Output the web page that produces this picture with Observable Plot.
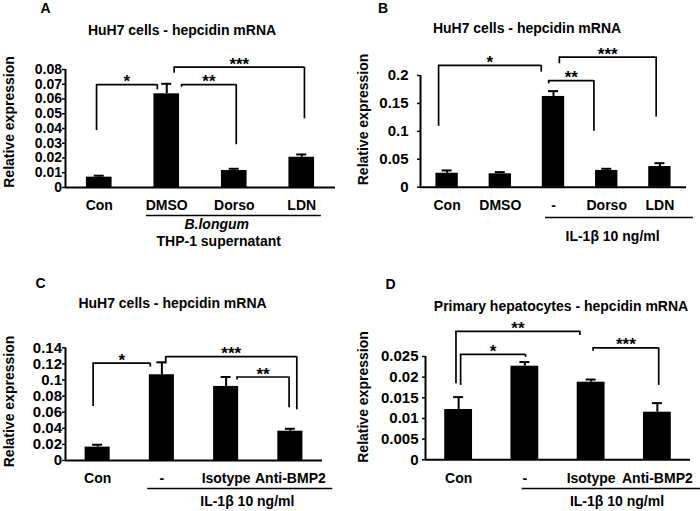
<!DOCTYPE html>
<html>
<head>
<meta charset="utf-8">
<script src="https://cdn.jsdelivr.net/npm/d3@7"></script>
<script src="https://cdn.jsdelivr.net/npm/@observablehq/plot@0.6"></script>
<style>
html, body { margin: 0; padding: 0; background: #fff; }
#wrap { position: relative; width: 700px; height: 511px; overflow: hidden; background: #fff; }
#wrap > div { position: absolute; }
</style>
</head>
<body>
<div id="wrap">
  <div id="pA" style="left:0;top:0"></div>
  <div id="pB" style="left:350px;top:0"></div>
  <div id="pC" style="left:0;top:255px"></div>
  <div id="pD" style="left:350px;top:255px"></div>
</div>
<script>
// ---------------- Panel A ----------------
const titleA = "HuH7 cells - hepcidin mRNA";
const catsA = ["Con", "DMSO", "Dorso", "LDN"];
const meanA = [0.007, 0.0635, 0.0115, 0.0205];
const semA = [0.001, 0.0068, 0.0012, 0.0019];
const ticksA = ["0", "0.01", "0.02", "0.03", "0.04", "0.05", "0.06", "0.07", "0.08"];
const sigA = [
  {label: "*", a: "Con", aShift: -0.04, aY: 0.0386, b: "DMSO", bShift: -0.14, bY: 0.0662, top: 0.0698},
  {label: "**", a: "DMSO", aShift: 0.22, aY: 0.068, b: "Dorso", bShift: 0.03, bY: 0.029, top: 0.0698},
  {label: "***", a: "DMSO", aShift: 0.11, aY: 0.0775, b: "LDN", bShift: 0.04, bY: 0.0466, top: 0.0816}
];
const groupLineA = {from: "DMSO", to: "LDN", padFrom: 0.3, padTo: 0.29};
const groupTextA = [
  {text: "B.longum", at: 1.74, italic: true, line: 0},
  {text: "THP-1 supernatant", at: 1.77, italic: false, line: 1}
];

// ---------------- Panel B ----------------
const titleB = "HuH7 cells - hepcidin mRNA";
const catsB = ["Con", "DMSO", "-", "Dorso", "LDN"];
const meanB = [0.025, 0.024, 0.1625, 0.030, 0.037];
const semB = [0.005, 0.003, 0.0095, 0.003, 0.006];
const ticksB = ["0", "0.05", "0.1", "0.15", "0.2"];
const sigB = [
  {label: "*", a: "Con", aShift: -0.16, aY: 0.109, b: "-", bShift: -0.23, bY: 0.206, top: 0.218},
  {label: "**", a: "-", aShift: -0.09, aY: 0.185, b: "Dorso", bShift: -0.24, bY: 0.1004, top: 0.191},
  {label: "***", a: "-", aShift: 0.11, aY: 0.221, b: "LDN", bShift: -0.07, bY: 0.1255, top: 0.233}
];
const groupLineB = {from: "-", to: "LDN", padFrom: 0.15, padTo: 0.63};
const groupTextB = [{text: "IL-1β 10 ng/ml", at: 3.11, italic: false, line: 0}];

// ---------------- Panel C ----------------
const titleC = "HuH7 cells - hepcidin mRNA";
const catsC = ["Con", "-", "Isotype", "Anti-BMP2"];
const meanC = [0.0166, 0.1065, 0.092, 0.0364];
const semC = [0.003, 0.0155, 0.0117, 0.003];
const ticksC = ["0", "0.02", "0.04", "0.06", "0.08", "0.1", "0.12", "0.14"];
const sigC = [
  {label: "*", a: "Con", aShift: -0.07, aY: 0.067, b: "-", bShift: -0.18, bY: 0.116, top: 0.121},
  {label: "***", a: "-", aShift: 0.06, aY: 0.120, b: "Anti-BMP2", bShift: 0.10, bY: 0.0629, top: 0.129},
  {label: "**", a: "Isotype", aShift: 0.17, aY: 0.100, b: "Anti-BMP2", bShift: -0.02, bY: 0.0655, top: 0.1037}
];
const groupLineC = {from: "-", to: "Anti-BMP2", padFrom: 0.22, padTo: 0.66};
const groupTextC = [{text: "IL-1β 10 ng/ml", at: 2.33, italic: false, line: 0}];

// ---------------- Panel D ----------------
const titleD = "Primary hepatocytes - hepcidin mRNA";
const catsD = ["Con", "-", "Isotype", "Anti-BMP2"];
const meanD = [0.01217, 0.02265, 0.01878, 0.01152];
const semD = [0.003, 0.001, 0.00065, 0.0022];
const ticksD = ["0", "0.005", "0.01", "0.015", "0.02", "0.025"];
const sigD = [
  {label: "*", a: "Con", aShift: 0.03, aY: 0.018, b: "-", bShift: 0.01, bY: 0.0248, top: 0.0255},
  {label: "**", a: "Con", aShift: -0.04, aY: 0.0184, b: "Isotype", bShift: -0.17, bY: 0.0301, top: 0.0311},
  {label: "***", a: "Isotype", aShift: 0.03, aY: 0.0263, b: "Anti-BMP2", bShift: 0.02, bY: 0.018, top: 0.0271}
];
const groupLineD = {from: "-", to: "Anti-BMP2", padFrom: 0.04, padTo: 0.7};
const groupTextD = [{text: "IL-1β 10 ng/ml", at: 2.39, italic: false, line: 0}];

const FONT = '"Liberation Sans", Arial, Helvetica, sans-serif';

function panel(cfg) {
  const {cats, means, sems, ticks, sig, groupLine, groupText, title, letter, L} = cfg;
  const n = cats.length;
  const idx = new Map(cats.map((c, i) => [c, i]));
  const data = cats.map((c, i) => ({cat: c, i, mean: means[i], sem: sems[i]}));
  const xDomain = [-0.5, n - 0.5];
  const yDomain = [0, +ticks[ticks.length - 1]];
  const step = (L.width - L.ml - L.mr) / n;
  const cap = 5 / step;
  const tickLabel = new Map(ticks.map(t => [+t, t]));
  const br = sig.map(s => {
    const xa = idx.get(s.a) + s.aShift, xb = idx.get(s.b) + s.bShift;
    return {...s, xa, xb, mid: (xa + xb) / 2};
  });
  const legs = br.flatMap(b => [{x: b.xa, y1: b.aY, y2: b.top}, {x: b.xb, y1: b.bY, y2: b.top}]);
  const pos = (px, py) => ({frameAnchor: "top-left", dx: px - L.ml, dy: py - L.mt});

  return Plot.plot({
    width: L.width,
    height: L.height,
    marginLeft: L.ml,
    marginRight: L.mr,
    marginTop: L.mt,
    marginBottom: L.mb,
    style: {fontFamily: FONT, fontSize: "14px", fontWeight: "bold", color: "#000", background: "#fff", overflow: "visible"},
    x: {domain: xDomain},
    y: {domain: yDomain},
    marks: [
      // bars
      Plot.rect(data, {x1: d => d.i - L.barHalf, x2: d => d.i + L.barHalf, y1: 0, y2: "mean", fill: "#000"}),
      // error bars
      Plot.ruleX(data, {x: "i", y1: "mean", y2: d => d.mean + d.sem, stroke: "#000", strokeWidth: 2}),
      Plot.ruleY(data, {y: d => d.mean + d.sem, x1: d => d.i - cap, x2: d => d.i + cap, stroke: "#000", strokeWidth: 2}),
      // axes lines
      Plot.ruleX([xDomain[0]], {stroke: "#000", strokeWidth: 2}),
      Plot.ruleY([yDomain[0]], {stroke: "#000", strokeWidth: 2}),
      Plot.axisY({ticks: ticks.map(Number), tickFormat: d => tickLabel.get(d), tickSize: 3, tickPadding: L.tickPad, strokeWidth: 1.5, label: null, fontSize: L.tickFont}),
      Plot.axisX({ticks: d3.range(n), tickFormat: i => cats[i], tickSize: 0, tickPadding: 13, label: null, fontSize: 14}),
      // significance brackets
      Plot.ruleX(legs, {x: "x", y1: "y1", y2: "y2", stroke: "#000", strokeWidth: 1.7}),
      Plot.ruleY(br, {y: "top", x1: "xa", x2: "xb", stroke: "#000", strokeWidth: 1.7}),
      Plot.text(br, {x: "mid", y: "top", text: "label", fontSize: 17, fontWeight: "bold", lineAnchor: "bottom", dy: 2.5}),
      // group underline and labels
      Plot.ruleY([yDomain[0]], {x1: idx.get(groupLine.from) - groupLine.padFrom, x2: idx.get(groupLine.to) + groupLine.padTo, dy: L.lineDy, stroke: "#000", strokeWidth: 1.7}),
      ...groupText.map(g => Plot.text([g.text], {x: g.at, frameAnchor: "bottom", text: d => d, lineAnchor: "bottom", dy: L.textDy[g.line], fontStyle: g.italic ? "italic" : "normal", fontSize: 14})),
      // y axis title
      Plot.text(["Relative expression"], {...pos(L.ylab[0], L.ylab[1]), text: d => d, rotate: -90, textAnchor: "middle", lineAnchor: "middle", fontSize: 14}),
      // panel title and letter
      Plot.text([title], {...pos(L.title[0], L.title[1]), text: d => d, textAnchor: "middle", lineAnchor: "bottom", fontSize: 14}),
      Plot.text([letter], {...pos(L.letter[0], L.letter[1]), text: d => d, textAnchor: "middle", lineAnchor: "bottom", fontSize: 14})
    ]
  });
}

const layoutA = {width: 350, height: 255, ml: 65, mr: 15, mt: 69, mb: 68, barHalf: 0.19, tickPad: 0.5, tickFont: 14,
  lineDy: 28, textDy: [41, 58], ylab: [9, 121.5], title: [181.5, 34], letter: [45, 12.5]};
const layoutB = {width: 350, height: 255, ml: 70, mr: 14, mt: 75, mb: 68.3, barHalf: 0.21, tickPad: 9, tickFont: 15,
  lineDy: 30.3, textDy: [53.3], ylab: [13, 119], title: [176.5, 32], letter: [32.5, 12.5]};
const layoutC = {width: 350, height: 256, ml: 65, mr: 28, mt: 92.3, mb: 51, barHalf: 0.195, tickPad: 0.5, tickFont: 15,
  lineDy: 28, textDy: [45], ylab: [9, 146], title: [172, 52.5], letter: [40, 32]};
const layoutD = {width: 350, height: 256, ml: 75, mr: 10, mt: 101, mb: 51.7, barHalf: 0.21, tickPad: 4, tickFont: 15,
  lineDy: 28.7, textDy: [45.7], ylab: [13, 141.5], title: [210.5, 55], letter: [40, 33]};

document.getElementById("pA").append(panel({cats: catsA, means: meanA, sems: semA, ticks: ticksA, sig: sigA, groupLine: groupLineA, groupText: groupTextA, title: titleA, letter: "A", L: layoutA}));
document.getElementById("pB").append(panel({cats: catsB, means: meanB, sems: semB, ticks: ticksB, sig: sigB, groupLine: groupLineB, groupText: groupTextB, title: titleB, letter: "B", L: layoutB}));
document.getElementById("pC").append(panel({cats: catsC, means: meanC, sems: semC, ticks: ticksC, sig: sigC, groupLine: groupLineC, groupText: groupTextC, title: titleC, letter: "C", L: layoutC}));
document.getElementById("pD").append(panel({cats: catsD, means: meanD, sems: semD, ticks: ticksD, sig: sigD, groupLine: groupLineD, groupText: groupTextD, title: titleD, letter: "D", L: layoutD}));
</script>
</body>
</html>
